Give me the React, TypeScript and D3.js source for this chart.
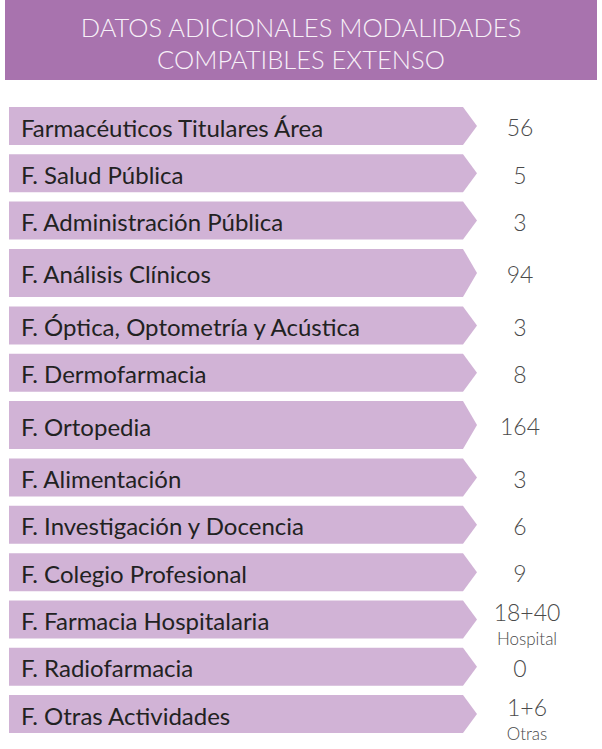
import React, { useRef, useEffect } from "react";
import * as d3 from "d3";

const titleLines = ["DATOS ADICIONALES MODALIDADES", "COMPATIBLES EXTENSO"];

const categories = [
  "Farmacéuticos Titulares Área",
  "F. Salud Pública",
  "F. Administración Pública",
  "F. Análisis Clínicos",
  "F. Óptica, Optometría y Acústica",
  "F. Dermofarmacia",
  "F. Ortopedia",
  "F. Alimentación",
  "F. Investigación y Docencia",
  "F. Colegio Profesional",
  "F. Farmacia Hospitalaria",
  "F. Radiofarmacia",
  "F. Otras Actividades",
];

const values = ["56", "5", "3", "94", "3", "8", "164", "3", "6", "9", "18+40", "0", "1+6"];
const subLabels = ["", "", "", "", "", "", "", "", "", "", "Hospital", "", "Otras"];

// rows drawn taller in the original layout
const tallRows = ["F. Análisis Clínicos", "F. Ortopedia"];

const W = 602;
const H = 749;

const Chart = () => {
  const ref = useRef<SVGSVGElement>(null);

  useEffect(() => {
    document.body.style.margin = "0";
    const svg = d3.select(ref.current);
    svg.selectAll("*").remove();

    // header
    svg.append("rect")
      .attr("x", 5).attr("y", 0)
      .attr("width", 592).attr("height", 80)
      .attr("fill", "#a873ae");

    svg.append("g")
      .selectAll("text")
      .data(titleLines)
      .join("text")
      .attr("x", W / 2)
      .attr("y", (d, i) => 36.5 + i * 32.5)
      .attr("text-anchor", "middle")
      .attr("fill", "#f7f0f8")
      .attr("font-family", "Lato, 'Open Sans', sans-serif")
      .attr("font-weight", 300)
      .attr("font-size", 25.5)
      .text(d => d);

    // row layout: cumulative units, tall rows take a bit more space
    const tallUnit = 1.216;
    const units = categories.map(c => (tallRows.includes(c) ? tallUnit : 1));
    const starts: number[] = [];
    let acc = 0;
    units.forEach(u => { starts.push(acc); acc += u; });

    const y = d3.scaleLinear().domain([0, acc]).range([107, 107 + acc * 47.3]);
    const barH = (c: string) => (tallRows.includes(c) ? 48 : 38);

    const x0 = 9;
    const bodyEnd = 463;
    const tip = 14;
    const valueX = 520;
    const stackedX = 527;

    const rows = svg.append("g")
      .selectAll("g")
      .data(categories)
      .join("g")
      .attr("transform", (d, i) => `translate(0,${y(starts[i])})`);

    rows.append("path")
      .attr("fill", "#d1b3d6")
      .attr("d", d => {
        const h = barH(d);
        const p = d3.path();
        p.moveTo(x0, 0);
        p.lineTo(bodyEnd, 0);
        p.lineTo(bodyEnd + tip, h / 2);
        p.lineTo(bodyEnd, h);
        p.lineTo(x0, h);
        p.closePath();
        return p.toString();
      });

    rows.append("text")
      .attr("x", 21)
      .attr("y", d => barH(d) / 2 + 10.5)
      .attr("fill", "#222")
      .attr("font-family", "Lato, 'Noto Sans', sans-serif")
      .attr("font-size", 24)
      .text(d => d);

    rows.append("text")
      .attr("x", (d, i) => (subLabels[i] ? stackedX : valueX))
      .attr("y", (d, i) => barH(d) / 2 + (subLabels[i] ? 2 : 10.3))
      .attr("text-anchor", "middle")
      .attr("fill", "#4a4a4a")
      .attr("font-family", "Lato, 'Open Sans', sans-serif")
      .attr("font-weight", 300)
      .attr("font-size", 23)
      .text((d, i) => values[i]);

    rows.filter((d, i) => subLabels[i] !== "")
      .append("text")
      .attr("x", stackedX)
      .attr("y", d => barH(d) / 2 + 25.5)
      .attr("text-anchor", "middle")
      .attr("fill", "#4a4a4a")
      .attr("font-family", "Lato, 'Open Sans', sans-serif")
      .attr("font-weight", 300)
      .attr("font-size", 17)
      .text(d => subLabels[categories.indexOf(d)]);
  }, []);

  return <svg ref={ref} width={W} height={H} style={{ display: "block" }}></svg>;
};

export default function App() {
  return <Chart />;
}
